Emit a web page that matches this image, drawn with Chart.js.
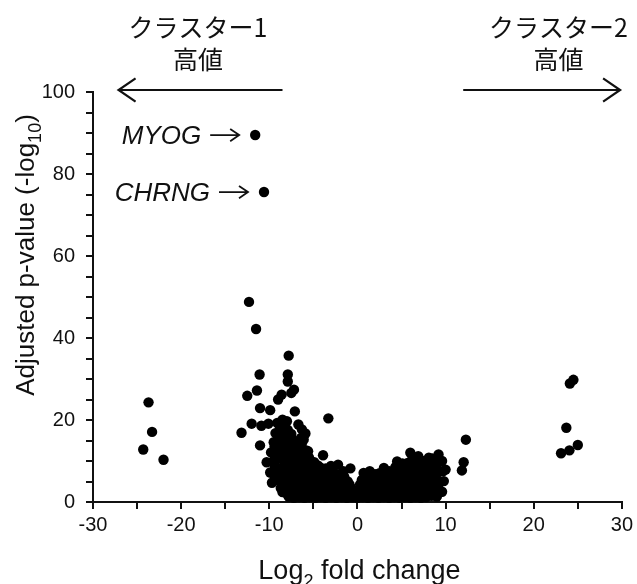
<!DOCTYPE html>
<html>
<head>
<meta charset="utf-8">
<script src="https://cdn.jsdelivr.net/npm/chart.js@4/dist/chart.umd.min.js"></script>
<style>
  html, body { margin: 0; padding: 0; background: #fff; }
  #wrap { width: 637px; height: 584px; }
</style>
</head>
<body>
<div id="wrap"><canvas id="c" width="637" height="584"></canvas></div>
<script>
// ---- data: [log2 fold change, adjusted p-value (-log10)] ----
const labelledGenes = ['MYOG', 'CHRNG'];
const labelledX = [-11.6, -10.6];
const labelledY = [89.5, 75.6];

const farLeftGenes = [[-23.7, 24.3], [-23.3, 17.1], [-24.3, 12.8], [-22.0, 10.3]];
const farRightGenes = [[24.5, 29.8], [24.1, 28.9], [23.7, 18.1], [23.1, 11.9], [24.05, 12.6], [25.0, 13.9]];

const sparseGenes = [
  [-12.3, 48.8], [-11.5, 42.2], [-7.8, 35.7], [-11.1, 31.1], [-7.9, 31.1], [-7.9, 29.4],
  [-12.5, 25.9], [-11.4, 27.2], [-9.0, 25.0], [-8.6, 26.2], [-7.5, 26.6], [-7.2, 27.4],
  [-11.05, 22.9], [-9.9, 22.4], [-7.1, 22.1], [-12.0, 19.1], [-10.9, 18.6], [-10.1, 19.1],
  [-13.15, 16.9], [-11.05, 13.8], [-3.3, 20.4], [-3.9, 11.4], [-8.5, 20.1], [-8.0, 19.7],
  [-6.7, 18.9], [-6.3, 17.7], [-5.9, 16.7], [-6.1, 15.2], [-5.6, 12.4], [-0.8, 8.2],
  [12.05, 9.7], [11.85, 7.7], [12.3, 15.2]
];

const denseLeftGenes = [
  [-9.7, 4.7], [-9.9, 7.2], [-9.6, 9.8], [-10.3, 9.7], [-9.8, 12.1], [-9.5, 14.6], [-9.3, 16.8],
  [-9.1, 5.3], [-9.0, 8.0], [-9.2, 10.6], [-8.9, 12.9], [-9.0, 15.4], [-8.8, 17.9], [-9.1, 19.3],
  [-8.5, 2.4], [-8.4, 4.6], [-8.6, 7.1], [-8.3, 9.4], [-8.5, 11.8], [-8.4, 14.2], [-8.6, 16.5], [-8.2, 18.4],
  [-7.8, 1.3], [-7.9, 3.6], [-7.7, 6.0], [-8.0, 8.5], [-7.8, 10.9], [-7.9, 13.4], [-7.6, 15.8], [-7.9, 17.6],
  [-7.2, 1.0], [-7.3, 3.1], [-7.1, 5.6], [-7.3, 7.9], [-7.2, 10.4], [-7.0, 12.9], [-7.3, 15.1],
  [-6.6, 1.2], [-6.7, 3.5], [-6.5, 6.1], [-6.7, 8.6], [-6.5, 11.0], [-6.6, 13.3], [-6.4, 15.6],
  [-9.4, 6.3], [-9.4, 8.9], [-9.4, 11.3], [-9.4, 13.6],
  [-8.7, 3.4], [-8.7, 5.9], [-8.7, 8.2], [-8.7, 10.7], [-8.7, 13.2], [-8.7, 15.6],
  [-8.1, 2.2], [-8.1, 4.7], [-8.1, 7.2], [-8.1, 9.8], [-8.1, 12.3], [-8.1, 14.8], [-8.1, 16.9],
  [-7.5, 2.1], [-7.5, 4.4], [-7.5, 6.9], [-7.5, 9.4], [-7.5, 11.8], [-7.5, 14.2], [-7.5, 16.6],
  [-6.9, 2.0], [-6.9, 4.4], [-6.9, 6.8], [-6.9, 9.3], [-6.9, 11.8], [-6.9, 14.0],
  [-6.3, 2.1], [-6.3, 4.6], [-6.3, 7.0], [-6.3, 9.6], [-6.3, 12.0], [-6.3, 14.3]
];

const denseCoreGenes = [
  [-6.0, 1.0], [-6.1, 3.0], [-5.9, 5.5], [-6.0, 8.0], [-6.1, 10.4], [-5.8, 12.6],
  [-5.4, 1.2], [-5.5, 3.5], [-5.3, 6.0], [-5.4, 8.4], [-5.5, 10.9],
  [-4.8, 1.0], [-4.9, 3.0], [-4.7, 5.5], [-4.8, 7.9], [-4.9, 9.7],
  [-4.2, 1.2], [-4.3, 3.5], [-4.1, 6.0], [-4.2, 8.4],
  [-3.6, 1.0], [-3.7, 3.0], [-3.5, 5.5], [-3.6, 8.2],
  [-3.0, 1.2], [-3.1, 3.5], [-2.9, 6.0], [-3.0, 8.8],
  [-2.4, 1.0], [-2.5, 3.0], [-2.3, 5.5], [-2.2, 9.1],
  [-1.8, 1.2], [-1.9, 3.5], [-1.7, 6.0], [-1.6, 7.5],
  [-1.2, 1.0], [-1.3, 3.0], [-1.1, 5.0],
  [-0.6, 1.2], [-0.7, 3.4],
  [0.0, 1.0], [0.1, 2.6],
  [0.6, 1.2], [0.7, 3.4], [0.5, 5.4], [0.7, 7.1],
  [1.2, 1.0], [1.3, 3.0], [1.1, 5.0], [1.4, 7.5],
  [1.8, 1.2], [1.9, 3.5], [1.7, 5.5], [2.0, 6.8],
  [2.4, 1.0], [2.5, 3.0], [2.3, 5.0], [2.5, 7.0],
  [3.0, 1.2], [3.1, 3.5], [2.9, 5.5], [3.0, 8.3],
  [3.6, 1.0], [3.7, 3.0], [3.5, 5.0], [3.6, 7.5],
  [4.2, 1.2], [4.3, 3.5], [4.1, 6.0], [4.3, 8.5],
  [4.8, 1.0], [4.9, 3.0], [4.7, 5.5], [4.8, 8.0], [4.5, 9.9],
  [5.4, 1.2], [5.5, 3.5], [5.3, 6.0], [5.4, 8.5],
  [6.0, 1.0], [6.1, 3.0], [5.9, 5.5], [6.0, 8.0], [6.0, 12.0], [6.2, 10.3],
  [6.6, 1.2], [6.7, 3.5], [6.5, 6.0], [6.6, 8.5], [6.9, 11.2],
  [7.2, 1.0], [7.3, 3.0], [7.1, 5.5], [7.2, 8.0], [7.4, 10.0],
  [7.8, 1.2], [7.9, 3.5], [7.7, 6.0], [7.8, 8.5], [8.1, 10.8],
  [8.4, 1.5], [8.5, 3.0], [8.3, 5.5], [8.4, 8.0], [8.5, 10.6],
  [9.0, 1.3], [9.1, 3.5], [8.9, 6.0], [9.0, 9.0], [9.2, 11.6],
  [9.6, 2.5], [9.8, 5.1], [9.7, 7.5], [10.0, 7.9], [9.6, 10.0]
];

const denseFillGenes = [
  [-5.7, 2.2], [-5.7, 4.4], [-5.7, 6.8], [-5.7, 9.2],
  [-5.1, 2.2], [-5.1, 4.6], [-5.1, 7.0], [-5.1, 9.4],
  [-4.5, 2.1], [-4.5, 4.3], [-4.5, 6.8], [-4.5, 8.9],
  [-3.9, 2.2], [-3.9, 4.5], [-3.9, 7.0],
  [-3.3, 2.1], [-3.3, 4.4], [-3.3, 6.9],
  [-2.7, 2.2], [-2.7, 4.6], [-2.7, 7.2],
  [-2.1, 2.0], [-2.1, 4.4], [-2.1, 6.6],
  [-1.5, 2.1], [-1.5, 4.2], [-1.5, 6.2],
  [-0.9, 2.2], [-0.9, 4.3],
  [-0.3, 2.0],
  [0.3, 2.1], [0.3, 4.3],
  [0.9, 2.2], [0.9, 4.4], [0.9, 6.2],
  [1.5, 2.0], [1.5, 4.2], [1.5, 6.4],
  [2.1, 2.2], [2.1, 4.4], [2.1, 6.1],
  [2.7, 2.0], [2.7, 4.3], [2.7, 6.4],
  [3.3, 2.2], [3.3, 4.5], [3.3, 6.7],
  [3.9, 2.0], [3.9, 4.4], [3.9, 6.8],
  [4.5, 2.2], [4.5, 4.5], [4.5, 7.0],
  [5.1, 2.0], [5.1, 4.6], [5.1, 7.2], [5.1, 9.4],
  [5.7, 2.2], [5.7, 4.4], [5.7, 7.0], [5.7, 9.5],
  [6.3, 2.0], [6.3, 4.6], [6.3, 7.3], [6.3, 9.6],
  [6.9, 2.2], [6.9, 4.4], [6.9, 7.0], [6.9, 9.4],
  [7.5, 2.0], [7.5, 4.6], [7.5, 7.2], [7.5, 9.4],
  [8.1, 2.2], [8.1, 4.4], [8.1, 7.0], [8.1, 9.5],
  [8.7, 2.0], [8.7, 4.6], [8.7, 7.2], [8.7, 9.8],
  [9.3, 2.3], [9.3, 4.6], [9.3, 7.4]
];

const xRange = [-30, 30];
const yRange = [0, 100];
const clusterLabels = ['クラスター1', 'クラスター2'];
const highLabel = '高値';

// ---- build ----
const toPts = arr => arr.map(p => ({ x: p[0], y: p[1] }));
const allPoints = [].concat(
  toPts(farLeftGenes), toPts(farRightGenes), toPts(sparseGenes),
  toPts(denseLeftGenes), toPts(denseCoreGenes), toPts(denseFillGenes),
  labelledX.map((x, i) => ({ x: x, y: labelledY[i] }))
);

const FONT = '"Liberation Sans", Arial, sans-serif';
const JPFONT = '"Noto Sans CJK JP", "Noto Sans", sans-serif';
const INK = '#111';

function drawRich(ctx, segs, cx, baseY, size) {
  let total = 0;
  const ws = segs.map(s => {
    ctx.font = (s.sub ? Math.round(size * 0.68) : size) + 'px ' + FONT;
    const w = ctx.measureText(s.t).width;
    total += w;
    return w;
  });
  let x = cx - total / 2;
  segs.forEach((s, i) => {
    ctx.font = (s.sub ? Math.round(size * 0.68) : size) + 'px ' + FONT;
    ctx.fillText(s.t, x, s.sub ? baseY + size * 0.28 : baseY);
    x += ws[i];
  });
}

function arrowLine(ctx, x1, y, x2, head) {
  const dir = x2 > x1 ? 1 : -1;
  ctx.beginPath();
  ctx.moveTo(x1, y);
  ctx.lineTo(x2, y);
  ctx.moveTo(x2 - dir * head, y - head * 0.68);
  ctx.lineTo(x2, y);
  ctx.lineTo(x2 - dir * head, y + head * 0.68);
  ctx.stroke();
}

const annotations = {
  id: 'annotations',
  afterDraw(chart) {
    const ctx = chart.ctx;
    const xs = chart.scales.x, ys = chart.scales.y;
    const area = chart.chartArea;
    ctx.save();
    ctx.fillStyle = INK;
    ctx.strokeStyle = INK;
    ctx.textBaseline = 'alphabetic';
    ctx.textAlign = 'left';

    // x axis title
    drawRich(ctx, [{ t: 'Log' }, { t: '2', sub: true }, { t: ' fold change' }],
      (area.left + area.right) / 2 + 2, 579, 27);

    // y axis title
    ctx.save();
    ctx.translate(34, 255);
    ctx.rotate(-Math.PI / 2);
    drawRich(ctx, [{ t: 'Adjusted p-value (-log' }, { t: '10', sub: true }, { t: ')' }], 0, 0, 26);
    ctx.restore();

    // cluster labels
    ctx.textAlign = 'center';
    ctx.font = '25px ' + JPFONT;
    const c1 = xs.getPixelForValue(-18.1), c2 = xs.getPixelForValue(22.8);
    ctx.fillText(clusterLabels[0], c1, 37);
    ctx.fillText(highLabel, c1, 69);
    ctx.fillText(clusterLabels[1], c2, 37);
    ctx.fillText(highLabel, c2, 69);

    // direction arrows
    ctx.lineWidth = 2.2;
    arrowLine(ctx, xs.getPixelForValue(-8.5), area.top - 2, xs.getPixelForValue(-27.1), 17);
    arrowLine(ctx, xs.getPixelForValue(12.0), area.top - 2, xs.getPixelForValue(29.8), 17);

    // gene labels
    ctx.textAlign = 'right';
    ctx.font = 'italic 26px ' + FONT;
    labelledGenes.forEach((g, i) => {
      const px = xs.getPixelForValue(labelledX[i]);
      const py = ys.getPixelForValue(labelledY[i]);
      const tipX = px - 16, startX = px - 45;
      ctx.fillText(g, startX - 9, py + 9);
      ctx.lineWidth = 1.8;
      arrowLine(ctx, startX, py, tipX, 9);
    });
    ctx.restore();
  }
};

const tickFont = { family: FONT, size: 20 };

new Chart(document.getElementById('c'), {
  type: 'scatter',
  data: {
    datasets: [{
      data: allPoints,
      backgroundColor: '#000',
      borderColor: '#000',
      borderWidth: 0,
      pointRadius: 5.2,
      pointHoverRadius: 5.2,
      clip: false
    }]
  },
  options: {
    responsive: false,
    animation: false,
    devicePixelRatio: 1,
    layout: { padding: { top: 92, right: 13, left: 0, bottom: 0 } },
    plugins: { legend: { display: false }, tooltip: { enabled: false } },
    scales: {
      x: {
        type: 'linear',
        min: xRange[0], max: xRange[1],
        ticks: {
          stepSize: 5, autoSkip: false, maxRotation: 0, color: INK, font: tickFont, padding: 4,
          callback: v => (v % 10 === 0 ? String(v) : '')
        },
        grid: { drawOnChartArea: false, drawTicks: true, tickLength: 7, color: INK, lineWidth: 2 },
        border: { display: true, color: INK, width: 2 },
        afterFit: s => { s.height = 82; }
      },
      y: {
        type: 'linear',
        min: yRange[0], max: yRange[1],
        ticks: {
          stepSize: 5, autoSkip: false, color: INK, font: tickFont, padding: 11,
          callback: v => (v % 20 === 0 ? String(v) : '')
        },
        grid: { drawOnChartArea: false, drawTicks: true, tickLength: 7, color: INK, lineWidth: 2 },
        border: { display: true, color: INK, width: 2 },
        afterFit: s => { s.width = 93; }
      }
    }
  },
  plugins: [annotations]
});
</script>
</body>
</html>
